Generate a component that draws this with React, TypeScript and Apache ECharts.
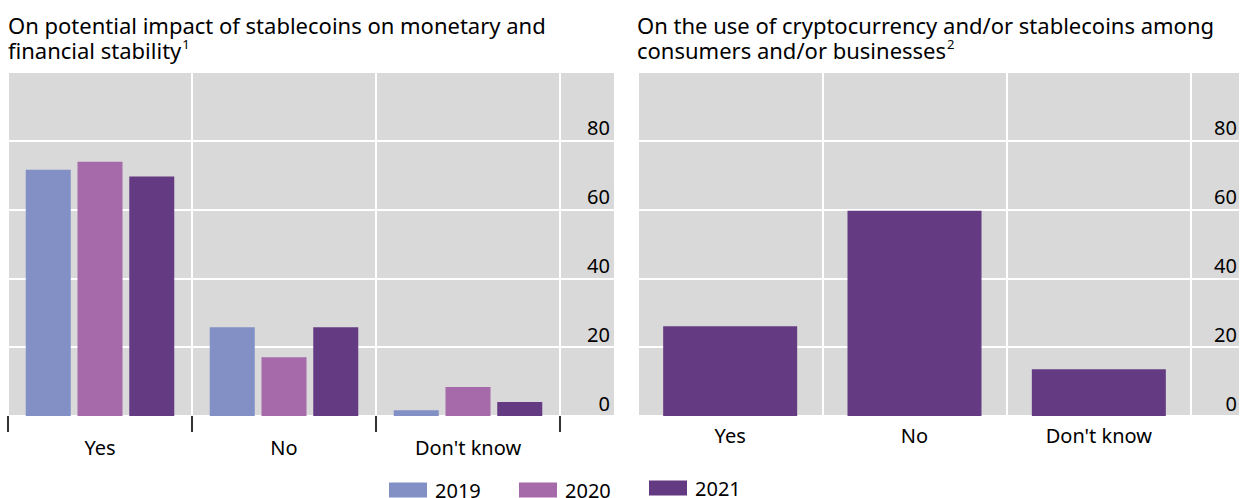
import React, { useEffect, useRef } from 'react';
import * as echarts from 'echarts';

const categories = ['Yes', 'No', "Don't know"];
const values2019 = [71.6, 25.8, 1.7];
const values2020 = [73.9, 17.1, 8.4];
const values2021 = [69.6, 25.8, 4.1];
const useValues2021 = [26.1, 59.7, 13.6];
const yMin = 0;
const yMax = 100;
const yStep = 20;

const FONT = 'Noto Sans';
const C2019 = '#8290C6';
const C2020 = '#A669AA';
const C2021 = '#643B82';
const GRAY = '#D9D9D9';

function mainY(gridIndex: number) {
  return {
    gridIndex,
    type: 'value',
    min: yMin,
    max: yMax,
    interval: yStep,
    axisLabel: { show: false },
    axisLine: { show: false },
    axisTick: { show: false },
    splitLine: { show: true, lineStyle: { color: '#ffffff', width: 2 } },
  };
}

function extY(gridIndex: number, margin: number) {
  return {
    gridIndex,
    type: 'value',
    position: 'right',
    min: yMin,
    max: yMax,
    interval: yStep,
    axisLine: { show: false },
    axisTick: { show: false },
    splitLine: { show: true, lineStyle: { color: '#ffffff', width: 2 } },
    axisLabel: {
      show: true,
      inside: true,
      margin,
      align: 'right',
      verticalAlign: 'bottom',
      padding: [0, 0, 3, 0],
      fontSize: 20,
      fontFamily: FONT,
      color: '#000',
      formatter: (v: number) => (v >= yMax ? '' : String(v)),
    },
  };
}

function extX(gridIndex: number) {
  return { gridIndex, type: 'value', show: false, min: 0, max: 1 };
}

function legendFor(name: string, left: number, top: number) {
  return {
    data: [name],
    left,
    top,
    padding: 0,
    icon: 'rect',
    itemWidth: 38,
    itemHeight: 15,
    selectedMode: false,
    textStyle: { fontSize: 20, fontFamily: FONT, color: '#000', padding: [0, 0, 0, 3] },
  };
}

export default function App() {
  const ref = useRef<HTMLDivElement>(null);
  useEffect(() => {
    const chart = echarts.init(ref.current!, null, { renderer: 'svg' });
    const titleStyle = {
      fontSize: 22,
      lineHeight: 25,
      fontWeight: 'normal',
      fontFamily: FONT,
      color: '#000',
      rich: {
        sup: { fontSize: 13, lineHeight: 17, verticalAlign: 'top', padding: [0, 0, 0, 1], fontFamily: FONT, color: '#000' },
      },
    };
    const option: any = {
      animation: false,
      backgroundColor: '#ffffff',
      textStyle: { fontFamily: FONT },
      title: [
        {
          text: 'On potential impact of stablecoins on monetary and\nfinancial stability{sup|1}',
          left: 8,
          top: 12,
          padding: 0,
          textStyle: titleStyle,
        },
        {
          text: 'On the use of cryptocurrency and/or stablecoins among\nconsumers and/or businesses{sup|2}',
          left: 637,
          top: 12,
          padding: 0,
          textStyle: titleStyle,
        },
      ],
      legend: [
        legendFor('2019', 389, 480),
        legendFor('2020', 519, 480),
        legendFor('2021', 649, 478),
      ],
      grid: [
        { left: 8, top: 72, width: 552, height: 344, show: true, backgroundColor: GRAY, borderWidth: 0 },
        { left: 560, top: 72, width: 54, height: 344, show: true, backgroundColor: GRAY, borderWidth: 0 },
        { left: 638, top: 72, width: 553, height: 344, show: true, backgroundColor: GRAY, borderWidth: 0 },
        { left: 1191, top: 72, width: 49, height: 344, show: true, backgroundColor: GRAY, borderWidth: 0 },
      ],
      xAxis: [
        {
          gridIndex: 0,
          type: 'category',
          data: categories,
          axisLine: { show: false },
          axisTick: { show: true, length: 16, lineStyle: { color: '#333', width: 2 } },
          splitLine: { show: true, interval: 0, lineStyle: { color: '#ffffff', width: 2 } },
          axisLabel: { interval: 0, margin: 21, fontSize: 20, fontFamily: FONT, color: '#000' },
        },
        extX(1),
        {
          gridIndex: 2,
          type: 'category',
          data: categories,
          axisLine: { show: false },
          axisTick: { show: false },
          splitLine: { show: true, interval: 0, lineStyle: { color: '#ffffff', width: 2 } },
          axisLabel: { interval: 0, margin: 9, fontSize: 20, fontFamily: FONT, color: '#000' },
        },
        extX(3),
      ],
      yAxis: [mainY(0), extY(1, 4), mainY(2), extY(3, 2)],
      series: [
        { type: 'bar', name: '2019', xAxisIndex: 0, yAxisIndex: 0, data: values2019, barWidth: 45, barGap: '15%', itemStyle: { color: C2019 } },
        { type: 'bar', name: '2020', xAxisIndex: 0, yAxisIndex: 0, data: values2020, barWidth: 45, barGap: '15%', itemStyle: { color: C2020 } },
        { type: 'bar', name: '2021', xAxisIndex: 0, yAxisIndex: 0, data: values2021, barWidth: 45, barGap: '15%', itemStyle: { color: C2021 } },
        { type: 'bar', name: '2021', xAxisIndex: 2, yAxisIndex: 2, data: useValues2021, barWidth: 134, itemStyle: { color: C2021 } },
      ],
    };
    chart.setOption(option);
    return () => chart.dispose();
  }, []);
  return <div ref={ref} style={{ position: 'fixed', left: 0, top: 0, width: 1240, height: 498 }} />;
}
